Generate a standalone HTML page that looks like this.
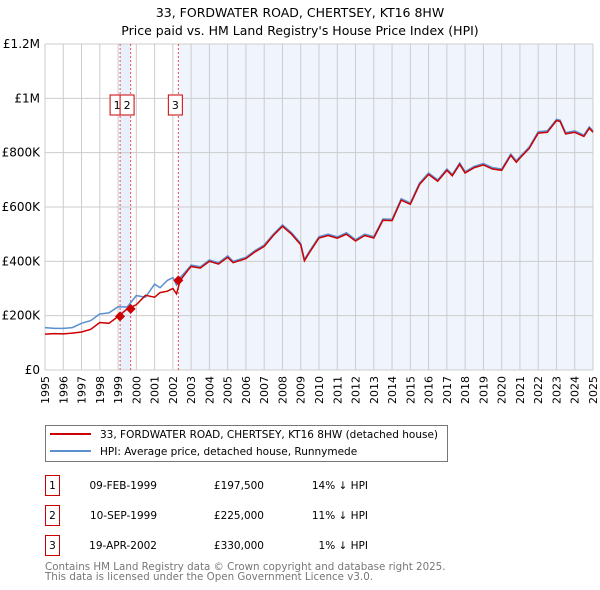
<!DOCTYPE html>
<html><head><meta charset="utf-8"><style>
body{margin:0;background:#fff;font-family:"DejaVu Sans","Liberation Sans",sans-serif;}
svg{display:block}
</style></head><body>
<svg id="c" width="600" height="590" xmlns="http://www.w3.org/2000/svg" font-family="DejaVu Sans, Liberation Sans, sans-serif">
<text x="300" y="17" font-size="12.5" text-anchor="middle">33, FORDWATER ROAD, CHERTSEY, KT16 8HW</text>
<text x="300" y="35" font-size="12.5" text-anchor="middle">Price paid vs. HM Land Registry's House Price Index (HPI)</text>
<g id="plot"></g>
<g>
<rect x="45.5" y="425.5" width="402" height="36" fill="#fff" stroke="#777"/>
<line x1="50" y1="434" x2="91" y2="434" stroke="#cc0000" stroke-width="2"/>
<text x="100" y="438" font-size="10.5">33, FORDWATER ROAD, CHERTSEY, KT16 8HW (detached house)</text>
<line x1="50" y1="451" x2="91" y2="451" stroke="#5b8fd0" stroke-width="2"/>
<text x="100" y="455" font-size="10.5">HPI: Average price, detached house, Runnymede</text>
</g>
<g font-size="10.5">
<rect x="45.5" y="475.5" width="14" height="20" fill="#fff" stroke="#cc0000"/><text x="52.5" y="489" text-anchor="middle">1</text>
<text x="157" y="489" text-anchor="end">09-FEB-1999</text><text x="264" y="489" text-anchor="end">£197,500</text><text x="368" y="489" text-anchor="end">14% ↓ HPI</text>
<rect x="45.5" y="505.5" width="14" height="20" fill="#fff" stroke="#cc0000"/><text x="52.5" y="519" text-anchor="middle">2</text>
<text x="157" y="519" text-anchor="end">10-SEP-1999</text><text x="264" y="519" text-anchor="end">£225,000</text><text x="368" y="519" text-anchor="end">11% ↓ HPI</text>
<rect x="45.5" y="535.5" width="14" height="20" fill="#fff" stroke="#cc0000"/><text x="52.5" y="549" text-anchor="middle">3</text>
<text x="157" y="549" text-anchor="end">19-APR-2002</text><text x="264" y="549" text-anchor="end">£330,000</text><text x="368" y="549" text-anchor="end">1% ↓ HPI</text>
</g>
<text x="45" y="570" font-size="10.3" fill="#777">Contains HM Land Registry data © Crown copyright and database right 2025.</text>
<text x="45" y="580" font-size="10.3" fill="#777">This data is licensed under the Open Government Licence v3.0.</text>
</svg>
<script>
const years=[1995,1995.5,1996,1996.5,1997,1997.5,1998,1998.5,1999,1999.5,2000,2000.5,2001,2001.3,2001.7,2002,2002.2,2002.4,2002.8,2003,2003.5,2004,2004.5,2005,2005.3,2006,2006.5,2007,2007.5,2008,2008.5,2009,2009.2,2009.5,2010,2010.5,2011,2011.5,2012,2012.5,2013,2013.5,2014,2014.5,2015,2015.5,2016,2016.5,2017,2017.3,2017.7,2018,2018.5,2019,2019.5,2020,2020.5,2020.8,2021,2021.5,2022,2022.5,2023,2023.2,2023.5,2024,2024.5,2024.8,2025];
const hpi=[156,153,153,156,172,182,206,210,233,232,274,268,316,303,330,340,313,340,370,386,380,405,395,420,400,415,440,460,500,534,505,466,407,440,491,500,490,505,480,500,491,556,555,630,615,688,725,700,740,720,762,730,750,760,745,740,795,770,785,820,877,880,923,920,874,880,865,895,880];
const paid=[132,134,133,136,140,150,175,172,197,225,240,275,268,285,290,300,280,330,365,381,375,400,390,415,395,410,435,455,495,529,500,461,402,435,486,495,485,500,475,495,486,551,550,625,610,683,720,695,735,715,757,725,745,755,740,735,790,765,780,815,872,875,918,915,869,875,860,890,875];
const saleYears=[1999.11,1999.69,2002.30];
const saleValues=[197.5,225,330];
const saleLabels=["1","2","3"];
const yTicks=[0,200,400,600,800,1000,1200];
const yTickLabels=["£0","£200K","£400K","£600K","£800K","£1M","£1.2M"];
const xTicks=[1995,1996,1997,1998,1999,2000,2001,2002,2003,2004,2005,2006,2007,2008,2009,2010,2011,2012,2013,2014,2015,2016,2017,2018,2019,2020,2021,2022,2023,2024,2025];

const X0=45,X1=593,Y0=370,Y1=44;
const sx=y=>X0+(y-1995)/30*(X1-X0);
const sy=v=>Y0-v/1200*(Y0-Y1);
const NS="http://www.w3.org/2000/svg";
const g=document.getElementById('plot');
function mk(t,a,p){const e=document.createElementNS(NS,t);for(const k in a)e.setAttribute(k,a[k]);(p||g).appendChild(e);return e;}
mk('rect',{x:X0,y:Y1,width:X1-X0,height:Y0-Y1,fill:'#fff'});
const sh1=mk('rect',{x:sx(saleYears[0]),y:Y1,width:sx(saleYears[1])-sx(saleYears[0]),height:Y0-Y1,fill:'#eaf0fb'});


const sh2=mk('rect',{x:sx(saleYears[2]),y:Y1,width:X1-sx(saleYears[2]),height:Y0-Y1,fill:'#f0f4fd'});


xTicks.forEach(t=>{
  const l=mk('line',{x1:sx(t),x2:sx(t),y1:Y1,y2:Y0,stroke:'#ccc','stroke-width':1});
  
  
  const tx=mk('text',{x:0,y:0,'font-size':11,'text-anchor':'end',transform:`translate(${sx(t)+4},${Y0+6}) rotate(-90)`});
  tx.textContent=t;
  
  
});
yTicks.forEach((t,i)=>{
  const l=mk('line',{x1:X0,x2:X1,y1:sy(t),y2:sy(t),stroke:'#ccc','stroke-width':1});
  
  
  const tx=mk('text',{x:40,y:sy(t)+4,'font-size':12,'text-anchor':'end'});
  tx.textContent=yTickLabels[i];
  
  
});
saleYears.forEach(y=>{
  const l=mk('line',{x1:sx(y),x2:sx(y),y1:Y1,y2:Y0,stroke:'#e05050','stroke-width':1,'stroke-dasharray':'2,2'});
  
  
});
const pts=a=>a.map((v,i)=>sx(years[i]).toFixed(1)+','+sy(v).toFixed(1)).join(' ');
const hl=mk('polyline',{points:pts(hpi),fill:'none',stroke:'#5b8fd0','stroke-width':1.5});


const pl=mk('polyline',{points:pts(paid),fill:'none',stroke:'#cc0000','stroke-width':1.5});


saleYears.forEach((y,i)=>{
  const cx=sx(y),cy=sy(saleValues[i]);
  const d=mk('polygon',{points:`${cx},${cy-5} ${cx+5},${cy} ${cx},${cy+5} ${cx-5},${cy}`,fill:'#cc0000'});
  
  
});
saleYears.forEach((y,i)=>{
  const cx=sx(y);
  const bx=i===1?sx(saleYears[0]):cx-10;
  const r=mk('rect',{x:bx,y:95,width:14,height:20,fill:'#fff',stroke:'#cc0000'});
  
  
  const t=mk('text',{x:bx+7,y:109,'font-size':11,'text-anchor':'middle'});
  t.textContent=saleLabels[i];
  
  
});
</script>
</body></html>
